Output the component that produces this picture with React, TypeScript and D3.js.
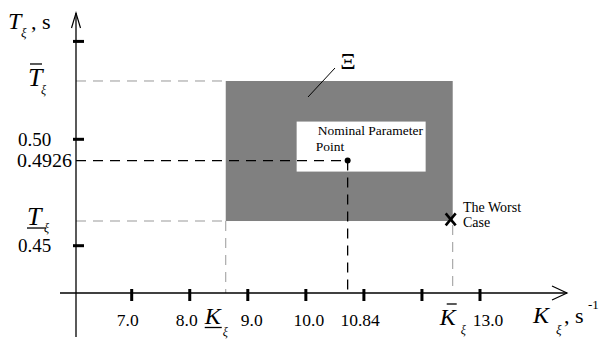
import React from "react";
import * as d3 from "d3";

// ---- data ----
const kTicks = [7, 8, 9, 10, 11, 12, 13];
const kTickLabels = [
  { v: 7, text: "7.0" },
  { v: 8, text: "8.0" },
  { v: 9, text: "9.0" },
  { v: 10, text: "10.0" },
  { v: 13, text: "13.0" },
];
const tTicks = [0.45, 0.5, 0.546];
const tTickLabels = [
  { v: 0.5, text: "0.50" },
  { v: 0.45, text: "0.45" },
];
const kBounds = [8.62, 12.53]; // K_ξ lower / upper
const tBounds = [0.4616, 0.5274]; // T_ξ lower / upper
const nominal = { k: 10.72, t: 0.49, kLabel: "10.84", tLabel: "0.4926" };
const worst = { k: 12.495, t: 0.4624 };

const FONT = "'Liberation Serif', 'Times New Roman', serif";

// layout: horizontal nudges of the x tick labels, as in the picture
const kLabelDx: Record<string, number> = { "7.0": -4, "8.0": -3, "9.0": 4, "10.0": 3, "13.0": 8 };

export default function App() {
  const x = d3.scaleLinear().domain([7, 13]).range([131.7, 480]);
  const y = d3.scaleLinear().domain([0.45, 0.5]).range([245.7, 139.3]);

  const axX = 76;
  const axY = 293;

  const rx0 = x(kBounds[0]);
  const rx1 = x(kBounds[1]);
  const ry1 = y(tBounds[1]);
  const ry0 = y(tBounds[0]);
  const nx = x(nominal.k);
  const ny = y(nominal.t);
  const wx = x(worst.k);
  const wy = y(worst.t);

  const gray = "#999";

  return (
    <svg
      width={602}
      height={341}
      style={{ position: "absolute", left: 0, top: 0, background: "#fff" }}
      fontFamily={FONT}
    >
      <rect width={602} height={341} fill="#fff" />

      {/* region Ξ */}
      <rect x={rx0} y={ry1} width={rx1 - rx0} height={ry0 - ry1} fill="#808080" />
      {/* label box */}
      <rect x={nx - 51} y={ny - 39} width={129} height={50} fill="#fff" />

      {/* gray dashed guides */}
      <g stroke={gray} strokeWidth={1} strokeDasharray="10,7" fill="none">
        <line x1={axX} x2={rx0} y1={ry1} y2={ry1} />
        <line x1={axX} x2={rx0} y1={ry0} y2={ry0} />
        <line x1={rx0} x2={rx0} y1={ry0} y2={axY} />
        <line x1={rx1} x2={rx1} y1={ry0 + 4} y2={axY} />
      </g>

      {/* black dashed to nominal point */}
      <g stroke="#000" strokeWidth={1.3} strokeDasharray="10,7" fill="none">
        <line x1={axX} x2={nx} y1={ny} y2={ny} />
        <line x1={nx} x2={nx} y1={ny} y2={axY} />
      </g>
      <circle cx={nx} cy={ny} r={3} fill="#000" />

      {/* axes */}
      <line x1={axX} x2={axX} y1={13} y2={337} stroke="#000" strokeWidth={1.3} />
      <line x1={60} x2={567} y1={axY} y2={axY} stroke="#000" strokeWidth={1.3} />
      <polyline points={`${axX - 4.5},28 ${axX},13 ${axX + 4.5},28`} fill="none" stroke="#000" strokeWidth={1.2} />
      <polyline points={`552,286 567,${axY} 552,300`} fill="none" stroke="#000" strokeWidth={1.2} />

      {/* ticks */}
      {kTicks.map((v) => (
        <line key={"kt" + v} x1={x(v)} x2={x(v)} y1={axY - 4} y2={axY + 8} stroke="#000" strokeWidth={3} />
      ))}
      {tTicks.map((v) => (
        <line key={"tt" + v} x1={axX - 3} x2={axX + 8} y1={y(v)} y2={y(v)} stroke="#000" strokeWidth={3} />
      ))}

      {/* tick labels */}
      <g fontSize={17.5} fill="#000">
        {kTickLabels.map((d) => (
          <text key={"kl" + d.v} x={x(d.v) + (kLabelDx[d.text] || 0)} y={326} textAnchor="middle">
            {d.text}
          </text>
        ))}
        <text x={nx + 12.5} y={326} textAnchor="middle">
          {nominal.kLabel}
        </text>
      </g>
      <g fontSize={19} fill="#000">
        {tTickLabels.map((d) => (
          <text key={"tl" + d.v} x={18} y={y(d.v) + 6.5}>
            {d.text}
          </text>
        ))}
        <text x={17} y={ny + 6} textLength={55} lengthAdjust="spacingAndGlyphs">
          {nominal.tLabel}
        </text>
      </g>

      {/* axis titles */}
      <g fill="#000">
        <text x={8} y={29} fontSize={24} fontStyle="italic">T</text>
        <text x={21} y={37} fontSize={13} fontStyle="italic">ξ</text>
        <text x={31} y={29} fontSize={22}>, s</text>

        <text x={533} y={323} fontSize={24} fontStyle="italic">K</text>
        <text x={556} y={334} fontSize={13} fontStyle="italic">ξ</text>
        <text x={564} y={323} fontSize={22}>, s</text>
        <text x={588} y={309} fontSize={13}>-1</text>
      </g>

      {/* bound labels */}
      <g fill="#000">
        {/* T upper */}
        <text x={28} y={ry1 + 5} fontSize={26} fontStyle="italic">T</text>
        <line x1={30} x2={42} y1={ry1 - 17} y2={ry1 - 17} stroke="#000" strokeWidth={1.3} />
        <text x={41} y={ry1 + 13} fontSize={12} fontStyle="italic">ξ</text>
        {/* T lower */}
        <text x={27} y={ry0 + 4} fontSize={26} fontStyle="italic">T</text>
        <line x1={27} x2={46} y1={ry0 + 7} y2={ry0 + 7} stroke="#000" strokeWidth={1.3} />
        <text x={44} y={ry0 + 11} fontSize={12} fontStyle="italic">ξ</text>
        {/* K lower */}
        <text x={rx0 - 21} y={324} fontSize={24} fontStyle="italic">K</text>
        <line x1={rx0 - 21} x2={rx0 - 4} y1={327.5} y2={327.5} stroke="#000" strokeWidth={1.3} />
        <text x={rx0 - 3} y={336} fontSize={12} fontStyle="italic">ξ</text>
        {/* K upper */}
        <text x={rx1 - 13} y={325} fontSize={24} fontStyle="italic">K</text>
        <line x1={rx1 - 6} x2={rx1 + 4} y1={304} y2={304} stroke="#000" strokeWidth={1.3} />
        <text x={rx1 + 8} y={334} fontSize={12} fontStyle="italic">ξ</text>
      </g>

      {/* Ξ label and leader */}
      <text x={348} y={69} fontSize={24} textAnchor="middle" fill="#000">Ξ</text>
      <line x1={335} y1={68} x2={308} y2={97} stroke="#000" strokeWidth={1} />

      {/* nominal point label */}
      <g fontSize={13.5} fill="#000">
        <text x={nx - 30} y={ny - 26}>Nominal Parameter</text>
        <text x={nx - 32} y={ny - 10}>Point</text>
      </g>

      {/* worst case */}
      <g stroke="#000" strokeWidth={2.6}>
        <line x1={wx - 5} y1={wy - 6} x2={wx + 5} y2={wy + 6} />
        <line x1={wx + 5} y1={wy - 6} x2={wx - 5} y2={wy + 6} />
      </g>
      <g fontSize={14} fill="#000">
        <text x={463} y={211.5}>The Worst</text>
        <text x={463} y={227}>Case</text>
      </g>
    </svg>
  );
}
